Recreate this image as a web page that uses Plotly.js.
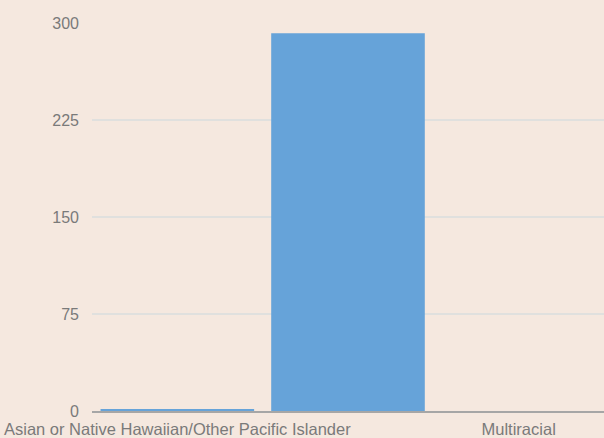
<!DOCTYPE html>
<html>
<head>
<meta charset="utf-8">
<script src="https://cdn.plot.ly/plotly-3.0.1.min.js"></script>
<style>html,body{margin:0;padding:0;background:#f5e8df;}#chart{width:604px;height:438px;}</style>
</head>
<body>
<div id="chart"></div>
<script>
const categories = ["Asian or Native Hawaiian/Other Pacific Islander", "White", "Multiracial"];
const values = [1.5, 292, 0];
const shownTicks = ["Asian or Native Hawaiian/Other Pacific Islander", "Multiracial"];
const yTicks = [0, 75, 150, 225, 300];

Plotly.newPlot('chart', [{
  type: 'bar',
  x: categories,
  y: values,
  marker: {color: '#66a3d9'},
  hoverinfo: 'x+y'
}], {
  width: 604, height: 438,
  margin: {l: 92, r: 0, t: 23, b: 27},
  paper_bgcolor: '#f5e8df',
  plot_bgcolor: '#f5e8df',
  bargap: 0.1,
  showlegend: false,
  font: {family: 'Liberation Sans, Arial, sans-serif', size: 16, color: '#7a7a7a'},
  xaxis: {
    type: 'category',
    tickvals: shownTicks,
    ticktext: shownTicks,
    tickangle: 0,
    showline: true, linecolor: '#a6a6a6', linewidth: 2,
    showgrid: false, ticks: '', ticklabelstandoff: 2,
    tickfont: {size: 16.5, color: '#7a7a7a'}
  },
  yaxis: {
    range: [0, 300],
    tickvals: yTicks,
    showgrid: true, gridcolor: '#e0e0de', gridwidth: 1.5,
    zeroline: false, showline: false, ticks: '',
    ticklabelstandoff: 12,
    tickfont: {size: 16, color: '#7a7a7a'}
  }
}, {displayModeBar: false, staticPlot: true});
</script>
</body>
</html>
